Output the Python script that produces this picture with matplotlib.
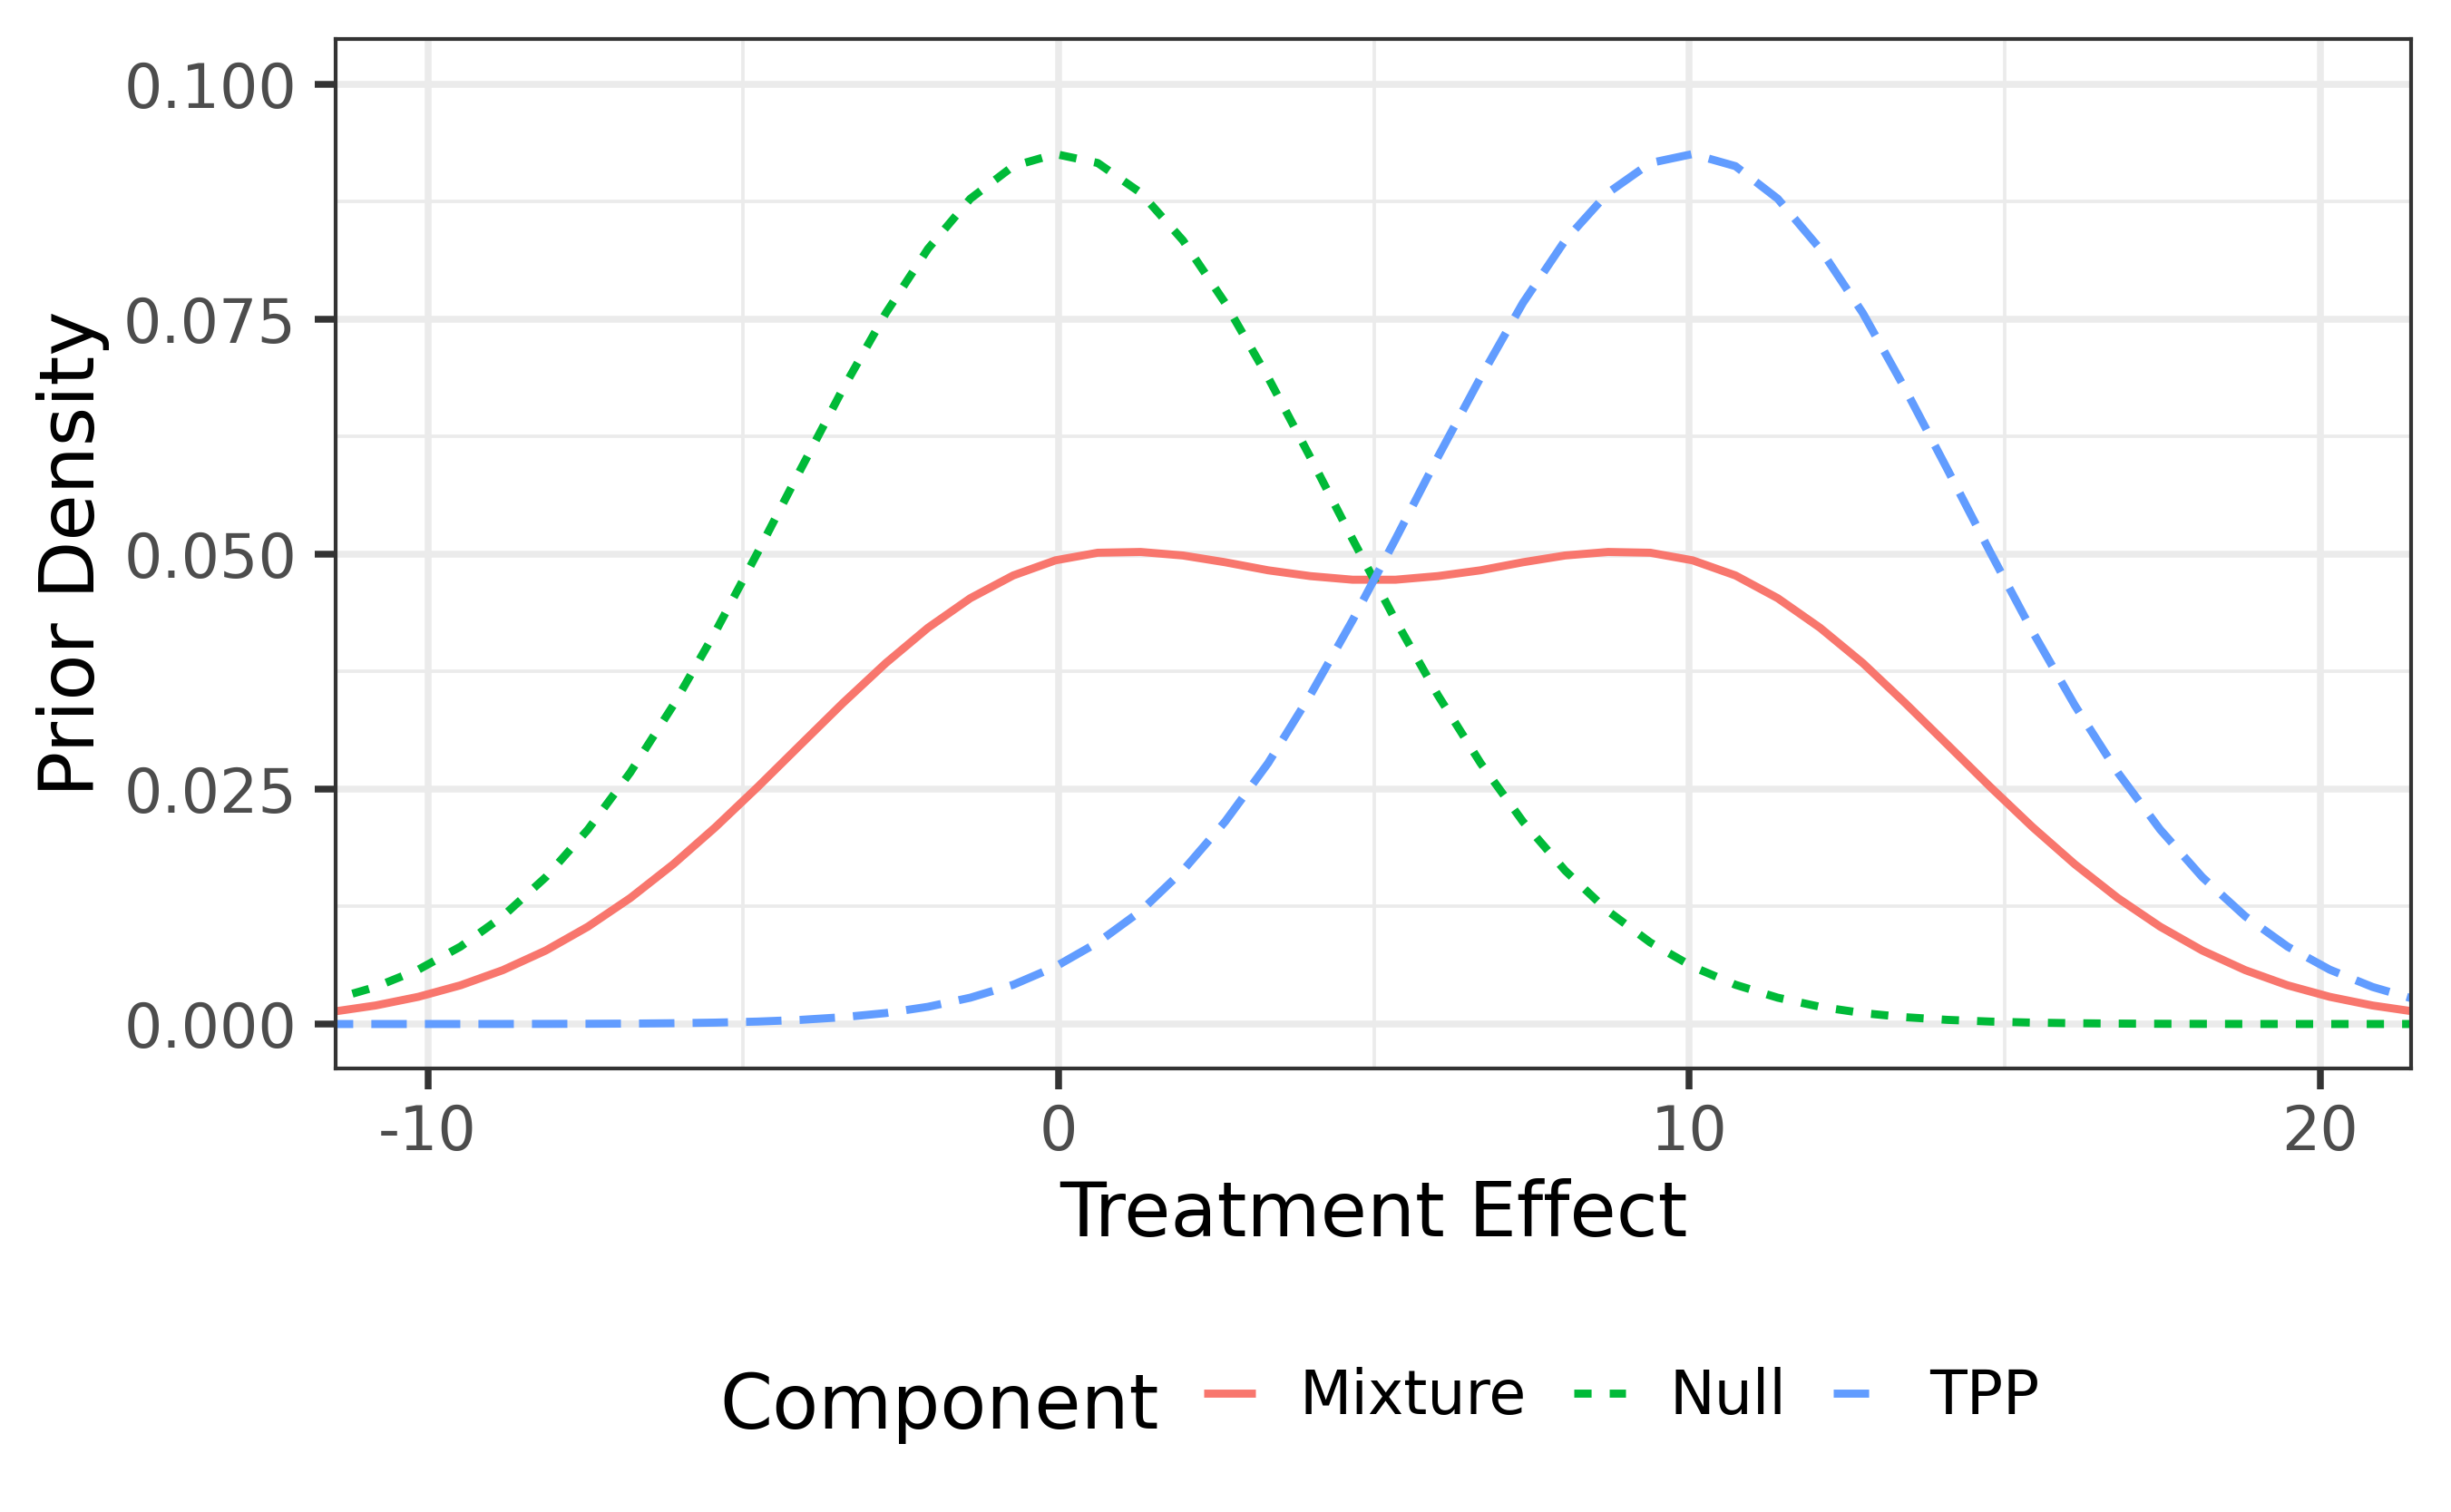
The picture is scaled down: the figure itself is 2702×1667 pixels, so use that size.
import matplotlib
matplotlib.use("Agg")
import matplotlib.pyplot as plt
from matplotlib.ticker import FixedLocator
from matplotlib.lines import Line2D

# ---- data ----
treatment_effect = [-11.50, -10.83, -10.15, -9.48, -8.81, -8.13, -7.46, -6.79, -6.11, -5.44,
                    -4.77, -4.09, -3.42, -2.74, -2.07, -1.40, -0.72, -0.05, 0.62, 1.30,
                    1.97, 2.64, 3.32, 3.99, 4.66, 5.34, 6.01, 6.69, 7.36, 8.03,
                    8.71, 9.38, 10.05, 10.73, 11.40, 12.07, 12.75, 13.42, 14.09, 14.77,
                    15.44, 16.11, 16.79, 17.46, 18.13, 18.81, 19.48, 20.15, 20.83, 21.50]

mixture = [0.001316, 0.001969, 0.002892, 0.004121, 0.005733, 0.007817, 0.010363, 0.013403, 0.016988, 0.020941,
           0.025216, 0.029721, 0.034143, 0.038392, 0.042157, 0.045301, 0.047722, 0.049333, 0.050140, 0.050225,
           0.049850, 0.049130, 0.048275, 0.047655, 0.047270, 0.047270, 0.047655, 0.048275, 0.049130, 0.049850,
           0.050225, 0.050140, 0.049333, 0.047722, 0.045301, 0.042157, 0.038392, 0.034143, 0.029721, 0.025216,
           0.020941, 0.016988, 0.013403, 0.010363, 0.007817, 0.005733, 0.004121, 0.002892, 0.001969, 0.001316]

null = [0.002632, 0.003937, 0.005782, 0.008239, 0.01146, 0.01562, 0.02070, 0.02676, 0.03389, 0.04173,
        0.05017, 0.05900, 0.06756, 0.07562, 0.08248, 0.08780, 0.09127, 0.09256, 0.09161, 0.08844,
        0.08338, 0.07672, 0.06880, 0.06030, 0.05158, 0.04296, 0.03501, 0.02775, 0.02154, 0.01632,
        0.01201, 0.008670, 0.006105, 0.004174, 0.002801, 0.001833, 0.001164, 0.000726, 0.000442, 0.000261,
        0.000151, 0.0000856, 0.0000469, 0.0000252, 0.0000133, 0.0000068, 0.0000034, 0.0000017, 0.0000008, 0.0000004]

tpp = [0.0000004, 0.0000008, 0.0000017, 0.0000034, 0.0000068, 0.0000133, 0.0000252, 0.0000469, 0.0000856, 0.000151,
       0.000261, 0.000442, 0.000726, 0.001164, 0.001833, 0.002801, 0.004174, 0.006105, 0.008670, 0.01201,
       0.01632, 0.02154, 0.02775, 0.03501, 0.04296, 0.05158, 0.06030, 0.06880, 0.07672, 0.08338,
       0.08844, 0.09161, 0.09256, 0.09127, 0.08780, 0.08248, 0.07562, 0.06756, 0.05900, 0.05017,
       0.04173, 0.03389, 0.02676, 0.02070, 0.01562, 0.01146, 0.008239, 0.005782, 0.003937, 0.002632]

components = ["Mixture", "Null", "TPP"]
x_ticks = [-10, 0, 10, 20]
x_tick_labels = ["-10", "0", "10", "20"]
x_minor = [-5, 5, 15]
y_ticks = [0.000, 0.025, 0.050, 0.075, 0.100]
y_tick_labels = ["0.000", "0.025", "0.050", "0.075", "0.100"]
y_minor = [0.0125, 0.0375, 0.0625, 0.0875]

# ---- style ----
plt.rcParams['font.family'] = ['DejaVu Sans']
colors = ["#F8766D", "#00BA38", "#619CFF"]
lw = 2.13
dash_patterns = [None, (2.15, 2.25), (4.4, 2.25)]   # in units of line width
curve_offset = 1.9                                   # dash phase at the left panel edge

W, H = 2702, 1667
L, R, T, B = 370, 2658.5, 43.3, 1177.5
fig = plt.figure(figsize=(W / 300, H / 300), dpi=300)
ax = fig.add_axes([L / W, 1 - B / H, (R - L) / W, (B - T) / H])

series = [mixture, null, tpp]
handles = []
for name, ys, c, dp in zip(components, series, colors, dash_patterns):
    ls = '-' if dp is None else (curve_offset, dp)
    ax.plot(treatment_effect, ys, color=c, lw=lw, linestyle=ls,
            solid_capstyle='butt', dash_capstyle='butt', zorder=3)
    hls = '-' if dp is None else (0, dp)
    handles.append(Line2D([], [], color=c, lw=lw, linestyle=hls,
                          solid_capstyle='butt', dash_capstyle='butt'))

ax.set_xlim(-11.46, 21.446)
ax.set_ylim(-0.00468, 0.10477)
ax.xaxis.set_major_locator(FixedLocator(x_ticks))
ax.set_xticklabels(x_tick_labels)
ax.xaxis.set_minor_locator(FixedLocator(x_minor))
ax.yaxis.set_major_locator(FixedLocator(y_ticks))
ax.set_yticklabels(y_tick_labels)
ax.yaxis.set_minor_locator(FixedLocator(y_minor))

ax.grid(which='major', color='#EBEBEB', lw=1.8, zorder=0)
ax.grid(which='minor', color='#EBEBEB', lw=0.9, zorder=0)
ax.set_axisbelow(True)
for s in ax.spines.values():
    s.set_color('#333333')
    s.set_linewidth(1.0)
    s.set_zorder(4)

ax.tick_params(which='major', length=5.5, width=1.8, color='#333333',
               labelsize=16, labelcolor='#4D4D4D')
ax.tick_params(axis='x', which='major', pad=3.8)
ax.tick_params(axis='y', which='major', pad=4.8)
ax.tick_params(which='minor', length=0)

# axis titles
fig.text(1514 / W, 1 - 1363 / H, "Treatment Effect", fontsize=20, ha='center', va='baseline')
fig.text(40 / W, 1 - 610.5 / H, "Prior Density", fontsize=20, rotation=90, ha='left', va='center')

# legend
fig.text(793 / W, 1 - 1575 / H, "Component", fontsize=20, ha='left', va='baseline')
leg = fig.legend(handles=handles, labels=components, ncol=3, loc='center left',
                 bbox_to_anchor=(1327 / W, 1 - 1540 / H), bbox_transform=fig.transFigure,
                 frameon=False, fontsize=16, handlelength=0.855, handletextpad=0.73,
                 columnspacing=0.78, borderpad=0, borderaxespad=0)

fig.savefig("out.png", dpi=300, facecolor='white')
